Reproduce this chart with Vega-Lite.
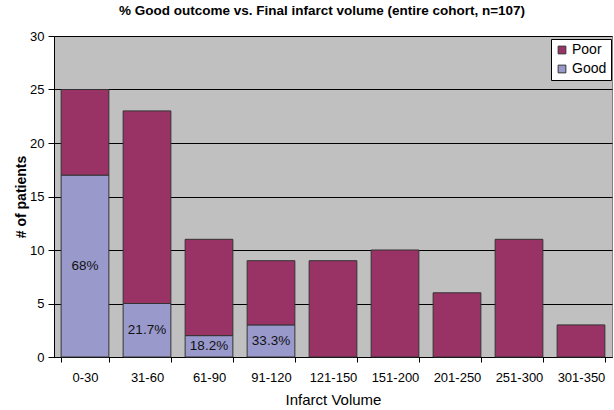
{
  "$schema": "https://vega.github.io/schema/vega-lite/v6.json",
  "width": 558,
  "height": 321,
  "autosize": "none",
  "padding": {"left": 54, "top": 36, "right": 2, "bottom": 53},
  "background": "white",
  "config": {
    "font": "Liberation Sans",
    "view": {"fill": "#C0C0C0", "stroke": "#808080", "strokeWidth": 1}
  },
  "title": {
    "text": "% Good outcome vs. Final infarct volume (entire cohort, n=107)",
    "font": "Liberation Sans",
    "fontSize": 13.5,
    "fontWeight": "bold",
    "color": "#000000",
    "offset": 13,
    "anchor": "middle",
    "dx": -11
  },
  "data": {
    "values": [
      {"cat": "0-30", "outcome": "Good", "n": 17, "ord": 1, "label": "68%"},
      {"cat": "0-30", "outcome": "Poor", "n": 8, "ord": 2},
      {"cat": "31-60", "outcome": "Good", "n": 5, "ord": 1, "label": "21.7%"},
      {"cat": "31-60", "outcome": "Poor", "n": 18, "ord": 2},
      {"cat": "61-90", "outcome": "Good", "n": 2, "ord": 1, "label": "18.2%"},
      {"cat": "61-90", "outcome": "Poor", "n": 9, "ord": 2},
      {"cat": "91-120", "outcome": "Good", "n": 3, "ord": 1, "label": "33.3%"},
      {"cat": "91-120", "outcome": "Poor", "n": 6, "ord": 2},
      {"cat": "121-150", "outcome": "Poor", "n": 9, "ord": 2},
      {"cat": "151-200", "outcome": "Poor", "n": 10, "ord": 2},
      {"cat": "201-250", "outcome": "Poor", "n": 6, "ord": 2},
      {"cat": "251-300", "outcome": "Poor", "n": 11, "ord": 2},
      {"cat": "301-350", "outcome": "Poor", "n": 3, "ord": 2}
    ]
  },
  "encoding": {
    "x": {
      "field": "cat",
      "type": "nominal",
      "sort": null,
      "scale": {"paddingInner": 0.23, "paddingOuter": 0.115},
      "axis": {
        "title": "Infarct Volume",
        "titleFont": "Liberation Sans",
        "titleFontSize": 15,
        "titleFontWeight": "normal",
        "titleColor": "#000000",
        "titlePadding": 8,
        "labelAngle": 0,
        "labelFontSize": 13,
        "labelColor": "#000000",
        "labelPadding": 9,
        "domainColor": "#000000",
        "tickColor": "#000000",
        "tickBand": "extent",
        "tickSize": 5
      }
    }
  },
  "layer": [
    {
      "mark": {"type": "bar", "stroke": "#333333", "strokeWidth": 1},
      "encoding": {
        "y": {
          "field": "n",
          "type": "quantitative",
          "stack": "zero",
          "scale": {"domain": [0, 30], "nice": false},
          "axis": {
            "values": [0, 5, 10, 15, 20, 25, 30],
            "title": "# of patients",
            "titleFont": "Liberation Sans",
            "titleFontSize": 14,
            "titleFontWeight": "bold",
            "titleColor": "#000000",
            "titlePadding": 1,
            "labelFontSize": 13,
            "labelColor": "#000000",
            "labelPadding": 4,
            "domainColor": "#000000",
            "tickColor": "#000000",
            "tickSize": 6,
            "grid": true,
            "gridColor": "#000000",
            "gridOpacity": 1,
            "gridWidth": 1
          }
        },
        "order": {"field": "ord", "type": "quantitative"},
        "color": {
          "field": "outcome",
          "type": "nominal",
          "scale": {"domain": ["Poor", "Good"], "range": ["#993366", "#9999CC"]},
          "legend": {
            "title": null,
            "orient": "none",
            "legendX": 497,
            "legendY": 3,
            "direction": "vertical",
            "fillColor": "#FFFFFF",
            "strokeColor": "#000000",
            "padding": 4,
            "symbolType": "square",
            "symbolSize": 60,
            "symbolStrokeColor": "#333333",
            "symbolStrokeWidth": 1,
            "labelFontSize": 14,
            "labelColor": "#000000",
            "labelFont": "Liberation Sans",
            "labelOffset": 3,
            "rowPadding": 5
          }
        }
      }
    },
    {
      "transform": [
        {"filter": "datum.label != null"},
        {"calculate": "datum.n / 2", "as": "mid"}
      ],
      "mark": {"type": "text", "fontSize": 13.5, "color": "#111111", "font": "Liberation Sans"},
      "encoding": {
        "y": {"field": "mid", "type": "quantitative"},
        "text": {"field": "label", "type": "nominal"}
      }
    }
  ]
}
